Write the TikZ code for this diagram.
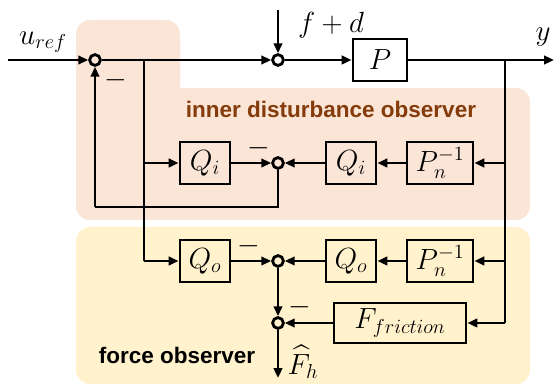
\documentclass[tikz,border=0pt]{standalone}
\usepackage{amsmath,amssymb}
\usepackage{fontspec}
\newfontfamily\obsfont{Liberation Sans}
\usetikzlibrary{arrows.meta}
\definecolor{dobfill}{HTML}{FBE5D6}
\definecolor{fobfill}{HTML}{FFF2CC}
\definecolor{dobtext}{HTML}{843C0C}
\begin{document}
\begin{tikzpicture}[x=0.025cm,y=-0.025cm,line width=2pt,
  >={Triangle[length=7pt,width=6pt]},
  blk/.style={draw,minimum height=1.05cm,inner sep=0pt,font=\fontsize{21}{24}\selectfont},
  sumnode/.style={draw,circle,minimum size=0.27cm,inner sep=0pt},
  lbl/.style={inner sep=0pt,font=\fontsize{21}{24}\selectfont},
  obs/.style={font=\obsfont\bfseries\fontsize{16}{19}\selectfont}]
\useasboundingbox (0,0) rectangle (555,385);
\fill [dobfill, rounded corners=0.35cm] (76,20) rectangle (180,220);
\fill [dobfill, rounded corners=0.35cm] (76,88) rectangle (530,220);
\fill [fobfill, rounded corners=0.35cm] (76,227) rectangle (530,384);
\node [obs, text=dobtext] (dobname) at (331,109) {inner disturbance observer};
\node [obs] (fobname) at (177,355) {force observer};

\node [sumnode] (s1) at (95,60) {};
\node [sumnode] (s2) at (278,60) {};
\node [blk, minimum width=1.35cm] (plant) at (380,60) {$P$};
\node [sumnode] (s3) at (278,163) {};
\node [blk, minimum width=1.25cm] (qi1) at (205,163) {$Q_i$};
\node [blk, minimum width=1.25cm] (qi2) at (351,163) {$Q_i$};
\node [blk, minimum width=1.65cm] (pinv1) at (440,163) {$P_n^{-1}$};
\node [sumnode] (s4) at (278,261) {};
\node [blk, minimum width=1.25cm] (qo1) at (205,261) {$Q_o$};
\node [blk, minimum width=1.25cm] (qo2) at (351,261) {$Q_o$};
\node [blk, minimum width=1.65cm] (pinv2) at (440,261) {$P_n^{-1}$};
\node [sumnode] (s5) at (278,323) {};
\node [blk, minimum width=3.3cm, minimum height=1cm] (fric) at (400,323) {$F_{friction}$};

\coordinate (uin) at (8,60);
\coordinate (fd) at (278,10);
\coordinate (yout) at (554,60);
\coordinate (bra) at (144,60);
\coordinate (bry) at (505,60);
\coordinate (fb) at (95,207);
\coordinate (fh) at (278,378);

\draw [->] (uin)--(s1);
\draw [->] (s1)--(s2);
\draw [->] (fd)--(s2);
\draw [->] (s2)--(plant);
\draw [->] (plant)--(yout);
\draw (bry)--(505,323);
\draw [->] (505,323)--(fric);
\draw [->] (505,163)--(pinv1);
\draw [->] (505,261)--(pinv2);
\draw (bra)--(144,261);
\draw [->] (144,163)--(qi1);
\draw [->] (144,261)--(qo1);
\draw [->] (qi1)--(s3);
\draw [->] (pinv1)--(qi2);
\draw [->] (qi2)--(s3);
\draw (s3)--(278,207)--(fb);
\draw [->] (fb)--(s1);
\draw [->] (qo1)--(s4);
\draw [->] (pinv2)--(qo2);
\draw [->] (qo2)--(s4);
\draw [->] (s4)--(s5);
\draw [->] (fric)--(s5);
\draw [->] (s5)--(fh);

\node [lbl] (uref) at (43,42) {$u_{ref}$};
\node [lbl] (fdlbl) at (331,25) {$f+d$};
\node [lbl] (ylbl) at (543,37) {$y$};
\node [lbl] (fhlbl) at (303,362) {$\widehat{F}_h$};
\node [lbl] (m1) at (116,80) {$-$};
\node [lbl] (m2) at (259,148) {$-$};
\node [lbl] (m3) at (249,246) {$-$};
\node [lbl] (m4) at (300,307) {$-$};
\end{tikzpicture}
\end{document}
